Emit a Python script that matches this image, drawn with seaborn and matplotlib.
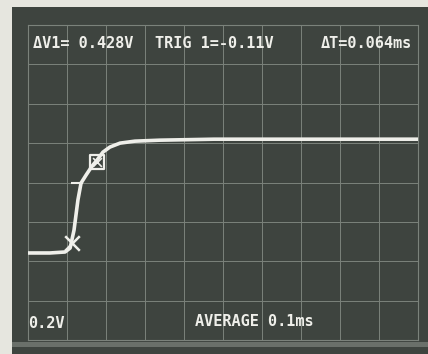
import numpy as np
import pandas as pd
import seaborn as sns
import matplotlib.pyplot as plt
from matplotlib.patches import Rectangle

# trace (time in ms, level in V)
t_ms = [0.000, 0.056, 0.095, 0.108, 0.118, 0.128, 0.136, 0.149, 0.164,
        0.177, 0.192, 0.210, 0.236, 0.274, 0.338, 0.477, 1.000]
volts = [0.442, 0.442, 0.447, 0.467, 0.558, 0.711, 0.797, 0.838, 0.883,
         0.914, 0.954, 0.980, 1.000, 1.010, 1.015, 1.020, 1.020]

# cursor markers
cursor_t = [0.113, 0.177]
cursor_v = [0.492, 0.904]
cursor_kind = ['x', 'box']
trig_t = [0.126]
trig_v = [0.797]

# screen readouts
top_text = ['\u0394V1= 0.428V', 'TRIG 1=-0.11V', '\u0394T=0.064ms']
bottom_text = ['0.2V', 'AVERAGE 0.1ms']

ms_per_div = 0.1
v_per_div = 0.2

screen = '#3e443f'
phosphor = '#efefea'
grat = '#7b827b'

sns.set_style('dark', {'axes.facecolor': screen})
plt.rcParams['font.family'] = ['DejaVu Sans Mono', 'DejaVu Sans']

fig = plt.figure(figsize=(4.28, 3.54), dpi=100)
fig.patch.set_facecolor('#e6e6df')
# CRT bezel / dark screen area
fig.patches.append(Rectangle((12/428, 0), 416/428, 347/354, transform=fig.transFigure,
                             facecolor=screen, edgecolor='none', zorder=-5))
# lighter glare band under the graticule
fig.patches.append(Rectangle((12/428, 7/354), 416/428, 5/354, transform=fig.transFigure,
                             facecolor='#6a706a', edgecolor='none', zorder=-4))

ax = fig.add_axes([28/428, 14/354, 390/428, 315/354])
ax.set_zorder(2)
ax.set_facecolor(screen)

df = pd.DataFrame({'t': t_ms, 'v': volts})
sns.lineplot(data=df, x='t', y='v', ax=ax, color=phosphor, linewidth=2.6,
             sort=False, zorder=5)

cur = pd.DataFrame({'t': cursor_t, 'v': cursor_v, 'kind': cursor_kind})
sns.scatterplot(data=cur.query('kind=="x"'), x='t', y='v', ax=ax, marker='x',
                s=110, color=phosphor, linewidth=1.8, zorder=6)
sns.scatterplot(data=cur.query('kind=="box"'), x='t', y='v', ax=ax, marker='s',
                s=110, facecolor='none', edgecolor=phosphor, linewidth=1.6, zorder=6)
sns.scatterplot(data=cur.query('kind=="box"'), x='t', y='v', ax=ax, marker='x',
                s=40, color=phosphor, linewidth=1.2, zorder=6)
sns.scatterplot(x=trig_t, y=trig_v, ax=ax, marker='_', s=70, color=phosphor,
                linewidth=1.5, zorder=6)

# graticule 10 x 8 divisions
ax.set_xlim(0, 10*ms_per_div)
ax.set_ylim(0, 8*v_per_div)
ax.set_xticks(np.arange(0, 10.01)*ms_per_div)
ax.set_yticks(np.arange(0, 8.01)*v_per_div)
ax.grid(True, color=grat, linewidth=0.7)
ax.tick_params(left=False, bottom=False, labelleft=False, labelbottom=False)
ax.set_xlabel('')
ax.set_ylabel('')
for s in ax.spines.values():
    s.set_visible(True)
    s.set_color(grat)
    s.set_linewidth(0.8)

# readouts
txt = dict(color=phosphor, fontsize=11, fontweight='bold', transform=fig.transFigure,
           va='center', zorder=10)
fig.text(33/428, 1-43/354, top_text[0], ha='left', **txt)
fig.text(155/428, 1-43/354, top_text[1], ha='left', **txt)
fig.text(412/428, 1-43/354, top_text[2], ha='right', **txt)
fig.text(28/428, 1-324/354, bottom_text[0], ha='left', **txt)
fig.text(195/428, 1-322/354, bottom_text[1], ha='left', **txt)

fig.savefig('out.png', dpi=100, facecolor=fig.get_facecolor())
